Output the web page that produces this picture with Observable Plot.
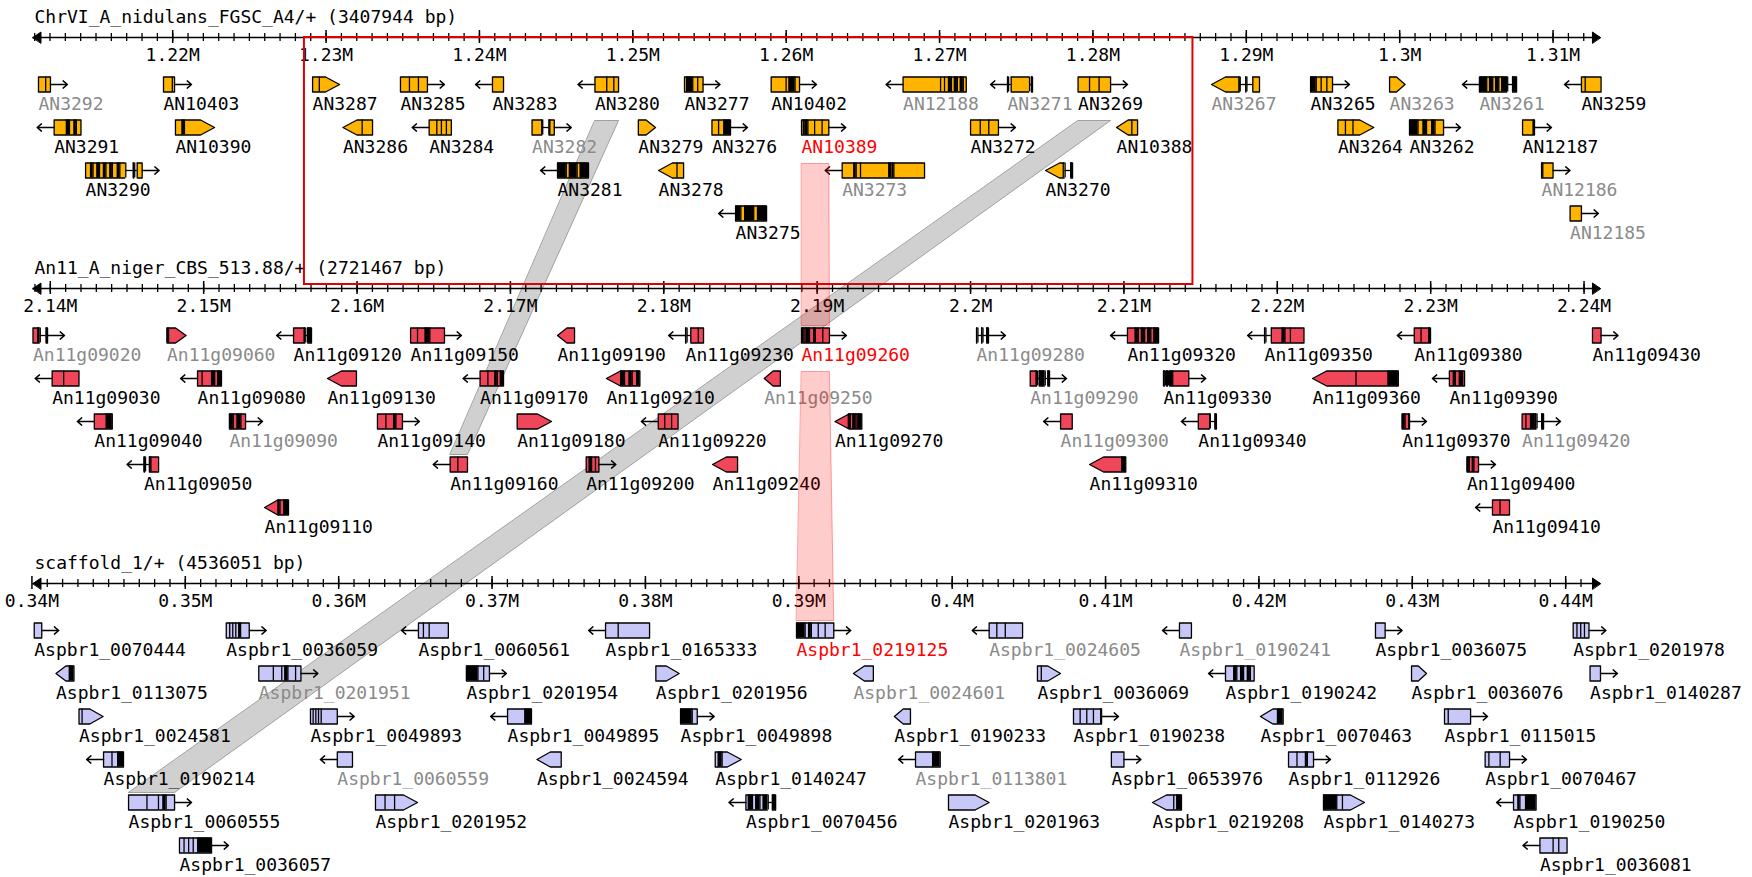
<!DOCTYPE html>
<html><head><meta charset="utf-8">
<script src="https://cdn.jsdelivr.net/npm/d3@7"></script>
<script src="https://cdn.jsdelivr.net/npm/@observablehq/plot@0.6"></script>
<style>
html,body{margin:0;padding:0;background:#fff;}
#chart{position:absolute;left:0;top:0;}
</style></head><body><div id="chart"></div>
<script>
// ---------- track descriptions ----------
const trackTitles = ["ChrVI_A_nidulans_FGSC_A4/+ (3407944 bp)", "An11_A_niger_CBS_513.88/+ (2721467 bp)", "scaffold_1/+ (4536051 bp)"];
const trackLeftKb = [1211.12, 2139.10, 340.298];
const axisStartKb = [1210.89, 2138.87, 340.07];
const axisEndKb = [1313.09, 2241.07, 442.27];
const majorTicksKb = [
  [1220,1230,1240,1250,1260,1270,1280,1290,1300,1310],
  [2140,2150,2160,2170,2180,2190,2200,2210,2220,2230,2240],
  [340,350,360,370,380,390,400,410,420,430,440]];
const majorTickLabels = [
  ["1.22M","1.23M","1.24M","1.25M","1.26M","1.27M","1.28M","1.29M","1.3M","1.31M"],
  ["2.14M","2.15M","2.16M","2.17M","2.18M","2.19M","2.2M","2.21M","2.22M","2.23M","2.24M"],
  ["0.34M","0.35M","0.36M","0.37M","0.38M","0.39M","0.4M","0.41M","0.42M","0.43M","0.44M"]];
const geneFill = ["#ffb400", "#f0465a", "#c8c8f8"];
const toneColor = {k: "#000000", g: "#8a8a8a", r: "#ff0000"};

// ---------- A. nidulans genes (kb) ----------
const nidNames = ["AN3292","AN10403","AN3287","AN3285","AN3283","AN3280","AN3277","AN10402","AN12188","AN3271","AN3269","AN3267","AN3265","AN3263","AN3261","AN3259",
"AN3291","AN10390","AN3286","AN3284","AN3282","AN3279","AN3276","AN10389","AN3272","AN10388","AN3264","AN3262","AN12187",
"AN3290","AN3281","AN3278","AN3273","AN3270","AN12186",
"AN3275","AN12185"];
const nidStart = [1211.25,1219.40,1229.12,1234.85,1240.85,1247.53,1253.37,1259.02,1267.62,1274.43,1279.03,1287.73,1294.19,1299.34,1305.20,1311.85,
1212.27,1220.18,1231.10,1236.72,1243.43,1250.36,1255.16,1261.00,1272.02,1281.54,1295.97,1300.64,1308.01,
1214.32,1245.09,1251.68,1263.65,1276.91,1309.25,
1256.70,1311.11];
const nidEnd = [1212.03,1220.12,1230.88,1236.61,1241.57,1249.07,1254.58,1260.87,1271.74,1276.06,1281.15,1290.86,1295.62,1300.35,1307.62,1313.13,
1214.02,1222.73,1233.03,1238.17,1244.88,1251.48,1256.37,1262.78,1273.84,1282.91,1298.31,1302.86,1308.79,
1218.01,1247.11,1253.31,1269.02,1278.67,1310.00,
1258.72,1311.85];
const nidLane = [0,0,0,0,0,0,0,0,0,0,0,0,0,0,0,0, 1,1,1,1,1,1,1,1,1,1,1,1,1, 2,2,2,2,2,2, 3,3];
const nidShape = [">a",">a",">p",">a","<a","<a",">a",">a","<a","<a",">a","<p",">a",">p","<a","<a",
"<a",">p","<p","<a",">a",">p",">a",">a",">a","<p",">p",">a",">a",
">a","<a","<p","<a","<p",">a",
"<a",">a"];
const nidPattern = ["o3 o2","o4 o1","o1 o3","o1 o1 o1","o","o5 o3 o2","o0.5 k1.5 o1.2 o1.3","o5 o1 k2 o1.5","o19 o2 o2 k1.5 o1.5 k1.5 o1.5 k1.5 o1.5","k3 i7 o50 i5 k3","o30 o25 o30","o70 k3 i14 k3 i15 o17","k15 o13 o15 o15","o","o3 k15 o7 k8 o7 k8 o7 k15 i12 k10","o10 o42",
"o32 k8 o12 k6 o12","o17 k6 o77","o50 o27","o20 o12 o13 o13","o22 k2 i14 k2 o10","o","o15 o12 k15","o5 k5 o2 k5 o18 o20 o18","o25 o22 o25","o40 o15","o20 o20 o55","k20 o12 k8 o12 k8 o20","o25 k3",
"o10 k5 o8 k5 o8 k5 o8 k5 o10 k5 o12 i15 k3 i5 o10","k17 o6 k15 o6 k16","o42 o15","o35 k7 o13 o85 k5 o5 k5 o92","o38 o4 i12 k4","k3 o25",
"k14 o10 k24 o10 k24","o"];
const nidTone = ["g","k","k","k","k","k","k","k","g","g","k","g","k","g","g","k",
"k","k","k","k","g","k","k","r","k","k","k","k","k",
"k","k","k","g","k","g",
"k","g"];

// ---------- A. niger genes (kb) ----------
const nigNames = ["An11g09020","An11g09060","An11g09120","An11g09150","An11g09190","An11g09230","An11g09260","An11g09280","An11g09320","An11g09350","An11g09380","An11g09430",
"An11g09030","An11g09080","An11g09130","An11g09170","An11g09210","An11g09250","An11g09290","An11g09330","An11g09360","An11g09390",
"An11g09040","An11g09090","An11g09140","An11g09180","An11g09220","An11g09270","An11g09300","An11g09340","An11g09370","An11g09420",
"An11g09050","An11g09160","An11g09200","An11g09240","An11g09310","An11g09400",
"An11g09110","An11g09410"];
const nigStart = [2138.87,2147.61,2155.86,2163.49,2173.07,2181.42,2188.98,2200.39,2210.23,2219.17,2228.93,2240.55,
2140.12,2149.60,2158.07,2168.02,2176.26,2186.55,2203.89,2212.58,2222.30,2231.22,
2142.87,2151.68,2161.33,2170.44,2179.64,2191.16,2205.87,2214.85,2228.14,2235.96,
2146.11,2166.07,2174.94,2183.18,2207.76,2232.37,
2153.97,2234.03];
const nigEnd = [2139.82,2148.85,2157.03,2165.70,2174.18,2182.59,2190.80,2201.17,2212.26,2221.74,2229.99,2241.11,
2141.87,2151.16,2159.96,2169.55,2178.44,2187.60,2205.15,2214.23,2227.89,2232.21,
2144.04,2152.73,2162.96,2172.68,2180.93,2192.91,2206.63,2216.03,2228.62,2237.36,
2147.06,2167.20,2175.77,2184.81,2210.12,2233.12,
2155.53,2235.14];
const nigLane = [0,0,0,0,0,0,0,0,0,0,0,0, 1,1,1,1,1,1,1,1,1,1, 2,2,2,2,2,2,2,2,2,2, 3,3,3,3,3,3, 4,4];
const nigShape = [">a",">p","<a",">a","<p","<a",">a",">a","<a","<a","<a",">a",
"<a","<a","<p","<a","<p","<p",">a",">a","<p","<a",
"<a",">a",">a",">p","<a","<p","<a","<a",">a",">a",
"<a","<a",">a","<p","<p",">a",
"<p","<a"];
const nigPattern = ["o10 k5 i12 k3","k4 o46","o28 k4 i5 k10","o18 o20 k12 o38","o","k4 i10 o20 o14","k6 o5 k8 o10 k4 o18 o16","k3 i8 k3 i8 k4","o20 k8 o8 k8 o8 k8 o8 k12","k3 i12 o24 k6 o12 o30","o18 o20 k5","o",
"o30 o40","o12 o25 k8 o8 k10","o","o20 o18 k6 o8 k8","o37 k10 o12 k8 o12 k8","o","o14 k3 i4 k14 i6 k4","k5 i3 k5 i3 k8 o42","o115 o85 k27","o10 k5 o10 k8 o5",
"o30 k15","k10 o10 k10 o12","o22 o20 k6 o17","o","o17 o18 o17","o35 k5 o7 k8 o5 k10","o","o30 k2 i12 k4","k8 o10 k2","o10 o12 k12 k5 i12 k5",
"k4 i10 k4 o20","o20 o25","o8 k6 o10 o9","o","o85 k10","k6 o8 k4 o12",
"o35 k5 o10 k12","o20 o25"];
const nigTone = ["g","g","k","k","k","k","r","g","k","k","k","k",
"k","k","k","k","k","g","g","k","k","k",
"k","g","k","k","k","k","g","k","k","g",
"k","k","k","k","k","k",
"k","k"];

// ---------- scaffold_1 genes (kb) ----------
const aspNames = ["Aspbr1_0070444","Aspbr1_0036059","Aspbr1_0060561","Aspbr1_0165333","Aspbr1_0219125","Aspbr1_0024605","Aspbr1_0190241","Aspbr1_0036075","Aspbr1_0201978",
"Aspbr1_0113075","Aspbr1_0201951","Aspbr1_0201954","Aspbr1_0201956","Aspbr1_0024601","Aspbr1_0036069","Aspbr1_0190242","Aspbr1_0036076","Aspbr1_0140287",
"Aspbr1_0024581","Aspbr1_0049893","Aspbr1_0049895","Aspbr1_0049898","Aspbr1_0190233","Aspbr1_0190238","Aspbr1_0070463","Aspbr1_0115015",
"Aspbr1_0190214","Aspbr1_0060559","Aspbr1_0024594","Aspbr1_0140247","Aspbr1_0113801","Aspbr1_0653976","Aspbr1_0112926","Aspbr1_0070467",
"Aspbr1_0060555","Aspbr1_0201952","Aspbr1_0070456","Aspbr1_0201963","Aspbr1_0219208","Aspbr1_0140273","Aspbr1_0190250",
"Aspbr1_0036057","Aspbr1_0036081"];
const aspStart = [340.15,352.67,365.20,377.40,389.85,402.41,414.82,427.60,440.49,
341.57,354.79,368.33,380.68,393.56,405.56,417.82,429.95,441.59,
343.07,358.16,371.01,382.29,396.23,407.91,420.10,432.10,
344.67,359.91,372.93,384.55,397.61,410.38,421.93,434.75,
346.30,362.40,386.55,399.76,413.06,424.21,436.60,
349.62,438.32];
const aspEnd = [340.64,354.17,367.15,380.27,392.28,404.59,415.60,428.23,441.52,
342.74,357.54,369.83,382.20,394.86,407.06,419.69,430.93,442.27,
344.64,359.91,372.57,383.38,397.28,409.74,421.58,433.80,
345.97,360.90,374.51,386.25,399.22,411.20,423.56,436.34,
349.30,365.14,388.49,402.41,414.95,426.88,438.07,
351.71,440.09];
const aspLane = [0,0,0,0,0,0,0,0,0, 1,1,1,1,1,1,1,1,1, 2,2,2,2,2,2,2,2, 3,3,3,3,3,3,3,3, 4,4,4,4,4,4,4, 5,5];
const aspShape = [">a",">a","<a","<a",">a","<a","<a",">a",">a",
"<p",">a",">a",">p","<p",">p","<a",">p",">a",
">p",">a","<a",">a","<p",">a","<p",">a",
"<a","<a","<p",">p","<a",">a",">a",">a",
">a",">p","<a",">p","<p",">p","<a",
">a","<a"];
const aspPattern = ["o","o8 o7 o7 o7 k4 o20","o13 o15 o50","o33 o82","k25 o10 k8 o20 o20 o25","o20 o22 o45","o","o","o10 o10 o10 o12",
"o35 k12","o38 o22 o8 k8 o20 o14","k30 o15 o15","o","o","o10 o50","o22 k8 o10 k8 o10 k8 o10","o","o",
"o8 o55","o7 o7 o7 o7 o42","o45 k17","k30 o13","o","o18 o18 o18 o20 k2","o45 k15","o10 o60",
"o22 o15 k15","o","o","o8 k10 o50","o45 k20","o","o22 o22 k5 o16","o10 o30 o25",
"o48 o30 o12 k8 o22","o25 o25 o60","o6 k10 o8 k10 o8 k12 i10 k8","o","o55 o8 k12","k35 o15 o58","o12 k5 o15 k28",
"o10 o10 o10 o10 k30","o35 o15 o22"];
const aspTone = ["k","k","k","k","r","g","g","k","k",
"k","g","k","k","g","k","k","k","k",
"k","k","k","k","k","k","k","k",
"k","g","k","k","g","k","k","k",
"k","k","k","k","k","k","k",
"k","k"];

// ---------- synteny links and selection ----------
const linkFrom = ["AN3280","AN3269","AN10389","An11g09260"];
const linkTo = ["An11g09160","Aspbr1_0060555","An11g09260","Aspbr1_0219125"];
const linkKind = ["grey","grey","pink","pink"];
const selectionKb = [1228.59, 1286.52];

// ---------- layout constants ----------
const FONT = "DejaVu Sans Mono";
const FS = 18;
const axisY = [37, 288, 583];
const ROW0 = 47, ROW = 43, HALF = 7.5;
const KB_PER_PX = 0.0652;
const SPAN = 1568 * KB_PER_PX;

const trackArrays = [
  [nidNames, nidStart, nidEnd, nidLane, nidShape, nidPattern, nidTone],
  [nigNames, nigStart, nigEnd, nigLane, nigShape, nigPattern, nigTone],
  [aspNames, aspStart, aspEnd, aspLane, aspShape, aspPattern, aspTone]];

const genes = [];
trackArrays.forEach(([names, st, en, lane, shape, pat, tone], ti) => {
  names.forEach((n, i) => genes.push({
    track: ti, name: n, s: st[i] - trackLeftKb[ti], e: en[i] - trackLeftKb[ti],
    dir: shape[i][0], kind: shape[i][1], pattern: pat[i], tone: tone[i],
    y: axisY[ti] + ROW0 + lane[i] * ROW}));
});
const byName = new Map(genes.map(g => [g.name, g]));

// bodies (polygons)
const bodies = [[], [], []];
const segs = [], introns = [], divs = [], arrows = [];
genes.forEach(g => {
  const w = g.e - g.s;
  const tip = g.kind === "p" ? Math.min(14 * KB_PER_PX, 0.55 * w) : 0;
  const y0 = g.y - HALF, y1 = g.y + HALF;
  let pts;
  if (g.kind === "p" && g.dir === ">") pts = [[g.s,y0],[g.e-tip,y0],[g.e,g.y],[g.e-tip,y1],[g.s,y1]];
  else if (g.kind === "p") pts = [[g.e,y0],[g.s+tip,y0],[g.s,g.y],[g.s+tip,y1],[g.e,y1]];
  else pts = [[g.s,y0],[g.e,y0],[g.e,y1],[g.s,y1]];
  pts.forEach(([x, y]) => bodies[g.track].push({id: g.name, x, y}));
  const toks = g.pattern.split(" ").map(t => ({type: t[0], w: t.length > 1 ? +t.slice(1) : 1}));
  const tot = d3.sum(toks, d => d.w);
  let acc = 0;
  toks.forEach((t, i) => {
    const x1 = g.s + w * acc / tot;
    acc += t.w;
    const x2 = g.s + w * acc / tot;
    if (t.type === "k") segs.push({x1, x2, y: g.y});
    if (t.type === "i") introns.push({x1, x2, y: g.y});
    if (i > 0) divs.push({x: x1, y: g.y});
  });
  if (g.kind === "a") {
    const L = 17 * KB_PER_PX;
    arrows.push(g.dir === ">" ? {x1: g.e, x2: g.e + L, y: g.y} : {x1: g.s, x2: g.s - L, y: g.y});
  }
});

// links
const greyPolys = [], pinkPolys = [];
linkFrom.forEach((f, i) => {
  const a = byName.get(f), b = byName.get(linkTo[i]);
  const yt = a.y + 36, yb = b.y - 10;
  const pts = [[a.s, yt], [a.e, yt], [b.e, yb], [b.s, yb]];
  const target = linkKind[i] === "grey" ? greyPolys : pinkPolys;
  pts.forEach(([x, y]) => target.push({id: "L" + i, x, y}));
});

// axes
const axes = [0,1,2].map(t => ({x1: axisStartKb[t] - trackLeftKb[t], x2: axisEndKb[t] - trackLeftKb[t], y: axisY[t]}));
const axisHeads = [];
[0,1,2].forEach(t => {
  const a = axes[t], hl = 8 * KB_PER_PX;
  [[a.x1, a.x1 + hl], [a.x2, a.x2 - hl]].forEach(([tipX, baseX], k) => {
    const id = "H" + t + k;
    axisHeads.push({id, x: tipX, y: a.y}, {id, x: baseX, y: a.y - 5.5}, {id, x: baseX, y: a.y + 5.5});
  });
});
const minorTicks = [], majorTicks = [];
[0,1,2].forEach(t => {
  for (let k = Math.ceil(axisStartKb[t]); k <= Math.floor(axisEndKb[t] - 0.6); k++) {
    minorTicks.push({x: k - trackLeftKb[t], y: axisY[t]});
  }
  majorTicksKb[t].forEach((k, i) => majorTicks.push({x: k - trackLeftKb[t], y: axisY[t], label: majorTickLabels[t][i]}));
});
const titles = trackTitles.map((t, i) => ({text: t, y: axisY[i] - 20}));
const selection = [{x1: selectionKb[0] - trackLeftKb[0], x2: selectionKb[1] - trackLeftKb[0], y1: axisY[0], y2: axisY[1] - 4}];

const poly = (data, opts) => Plot.line(data, {x: "x", y: "y", z: "id", curve: "linear-closed", ...opts});
const textOpts = {fontFamily: FONT, fontSize: FS};

const plot = Plot.plot({
  width: 1752, height: 877, margin: 0,
  x: {domain: [0, SPAN], range: [36, 1604], axis: null},
  y: {type: "identity", axis: null},
  style: {fontFamily: FONT, fontSize: FS + "px", background: "white"},
  marks: [
    poly(greyPolys, {fill: "#d0d0d0", stroke: "#a0a0a0", strokeWidth: 1}),
    Plot.ruleY(axes, {x1: "x1", x2: "x2", y: "y", stroke: "black", strokeWidth: 1.6}),
    Plot.ruleX(minorTicks, {x: "x", y1: d => d.y - 4, y2: d => d.y + 4, stroke: "black", strokeWidth: 1.3}),
    Plot.ruleX(majorTicks, {x: "x", y1: d => d.y - 7, y2: d => d.y + 6, stroke: "black", strokeWidth: 1.5}),
    poly(axisHeads, {fill: "black", stroke: "black", strokeWidth: 1}),
    Plot.text(majorTicks, {x: "x", y: d => d.y + 18, text: "label", ...textOpts, fill: "black"}),
    Plot.text(titles, {frameAnchor: "left", dx: 34, y: "y", text: "text", textAnchor: "start", ...textOpts, fill: "black"}),
    ...[0,1,2].map(t => poly(bodies[t], {fill: geneFill[t], stroke: "black", strokeWidth: 1.3})),
    Plot.rect(segs, {x1: "x1", x2: "x2", y1: d => d.y - HALF, y2: d => d.y + HALF, fill: "black"}),
    Plot.rect(introns, {x1: "x1", x2: "x2", y1: d => d.y - HALF - 1.5, y2: d => d.y + HALF + 1.5, fill: "white"}),
    Plot.ruleY(introns, {x1: "x1", x2: "x2", y: "y", stroke: "black", strokeWidth: 1.3}),
    Plot.ruleX(divs, {x: "x", y1: d => d.y - HALF, y2: d => d.y + HALF, stroke: "black", strokeWidth: 1.3}),
    Plot.arrow(arrows, {x1: "x1", x2: "x2", y1: "y", y2: "y", stroke: "black", strokeWidth: 1.4, headLength: 7, headAngle: 80}),
    ...["k", "g", "r"].map(tone => Plot.text(genes.filter(g => g.tone === tone), {x: "s", y: d => d.y + 20, text: "name", textAnchor: "start", ...textOpts, fill: toneColor[tone]})),
    Plot.rect(selection, {x1: "x1", x2: "x2", y1: "y1", y2: "y2", fill: "none", stroke: "#e00000", strokeWidth: 2}),
    poly(pinkPolys, {fill: "#ff0000", fillOpacity: 0.2, stroke: "#ff0000", strokeOpacity: 0.35, strokeWidth: 1})
  ]
});
document.getElementById("chart").appendChild(plot);
</script>
</body></html>
